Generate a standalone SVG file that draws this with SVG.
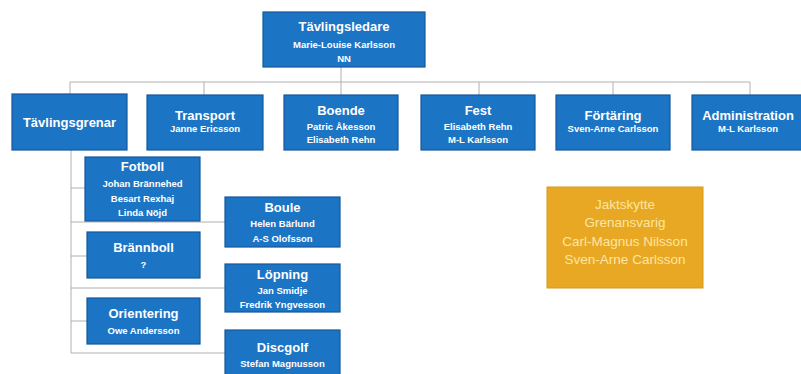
<svg xmlns="http://www.w3.org/2000/svg" width="801" height="374" viewBox="0 0 801 374">
<style>
.b{fill:#1c74c4;stroke:#15589a;stroke-width:1.2}
.o{fill:#e9a823;stroke:#d99a1c;stroke-width:1}
.t{font-family:"Liberation Sans",Arial,sans-serif;font-weight:bold;font-size:13px;fill:#ffffff;text-anchor:middle}
.n{font-family:"Liberation Sans",Arial,sans-serif;font-weight:bold;font-size:9.5px;fill:#ffffff;text-anchor:middle}
.y{font-family:"Liberation Sans",Arial,sans-serif;font-size:13.5px;fill:#fbe6a2;text-anchor:middle}
.c{fill:none;stroke:#b0b0b0;stroke-width:1}
</style>
<rect width="801" height="374" fill="#ffffff"/>
<g id="connectors">
<path class="c" d="M341 67V82M70 82H750M70 82V94M204 82V95M341 82V95M479 82V95M613 82V95M750 82V95"/>
<path class="c" d="M71 150V353M71 188H85M71 256H87M71 321H87M71 222H225M71 288H225M71 353H225"/>
</g>
<g id="tavlingsledare">
<rect class="b" x="263" y="12" width="162" height="55"/>
<text class="t" x="344" y="31">Tävlingsledare</text>
<text class="n" x="344" y="48">Marie-Louise Karlsson</text>
<text class="n" x="344" y="62">NN</text>
</g>
<g id="tavlingsgrenar">
<rect class="b" x="12" y="94" width="115" height="56"/>
<text class="t" x="69.5" y="127">Tävlingsgrenar</text>
</g>
<g id="transport">
<rect class="b" x="147" y="95" width="116" height="55"/>
<text class="t" x="205" y="120">Transport</text>
<text class="n" x="205" y="132">Janne Ericsson</text>
</g>
<g id="boende">
<rect class="b" x="284" y="95" width="114" height="55"/>
<text class="t" x="341" y="115">Boende</text>
<text class="n" x="341" y="130">Patric Åkesson</text>
<text class="n" x="341" y="143">Elisabeth Rehn</text>
</g>
<g id="fest">
<rect class="b" x="421" y="95" width="114" height="55"/>
<text class="t" x="478" y="115">Fest</text>
<text class="n" x="478" y="130">Elisabeth Rehn</text>
<text class="n" x="478" y="143">M-L Karlsson</text>
</g>
<g id="fortaring">
<rect class="b" x="556" y="95" width="114" height="55"/>
<text class="t" x="613" y="120">Förtäring</text>
<text class="n" x="613" y="132">Sven-Arne Carlsson</text>
</g>
<g id="administration">
<rect class="b" x="692" y="95" width="116" height="55"/>
<text class="t" x="748" y="120">Administration</text>
<text class="n" x="748" y="132">M-L Karlsson</text>
</g>
<g id="fotboll">
<rect class="b" x="85" y="157" width="115" height="64"/>
<text class="t" x="142.5" y="171">Fotboll</text>
<text class="n" x="142.5" y="187">Johan Brännehed</text>
<text class="n" x="142.5" y="202">Besart Rexhaj</text>
<text class="n" x="142.5" y="216">Linda Nöjd</text>
</g>
<g id="brannboll">
<rect class="b" x="87" y="232" width="113" height="46"/>
<text class="t" x="143.5" y="252">Brännboll</text>
<text class="n" x="143.5" y="268">?</text>
</g>
<g id="orientering">
<rect class="b" x="87" y="298" width="113" height="46"/>
<text class="t" x="143.5" y="318">Orientering</text>
<text class="n" x="143.5" y="334">Owe Andersson</text>
</g>
<g id="boule">
<rect class="b" x="225" y="197" width="115" height="50"/>
<text class="t" x="282.5" y="212">Boule</text>
<text class="n" x="282.5" y="227">Helen  Bärlund</text>
<text class="n" x="282.5" y="242">A-S Olofsson</text>
</g>
<g id="lopning">
<rect class="b" x="225" y="264" width="115" height="48"/>
<text class="t" x="282.5" y="279">Löpning</text>
<text class="n" x="282.5" y="294">Jan Smidje</text>
<text class="n" x="282.5" y="308">Fredrik Yngvesson</text>
</g>
<g id="discgolf">
<rect class="b" x="225" y="330" width="115" height="50"/>
<text class="t" x="282.5" y="352">Discgolf</text>
<text class="n" x="282.5" y="367">Stefan Magnusson</text>
</g>
<g id="jaktskytte">
<rect class="o" x="547" y="187" width="156" height="101"/>
<text class="y" x="625" y="209">Jaktskytte</text>
<text class="y" x="625" y="227">Grenansvarig</text>
<text class="y" x="625" y="246">Carl-Magnus Nilsson</text>
<text class="y" x="625" y="264">Sven-Arne Carlsson</text>
</g>
</svg>
